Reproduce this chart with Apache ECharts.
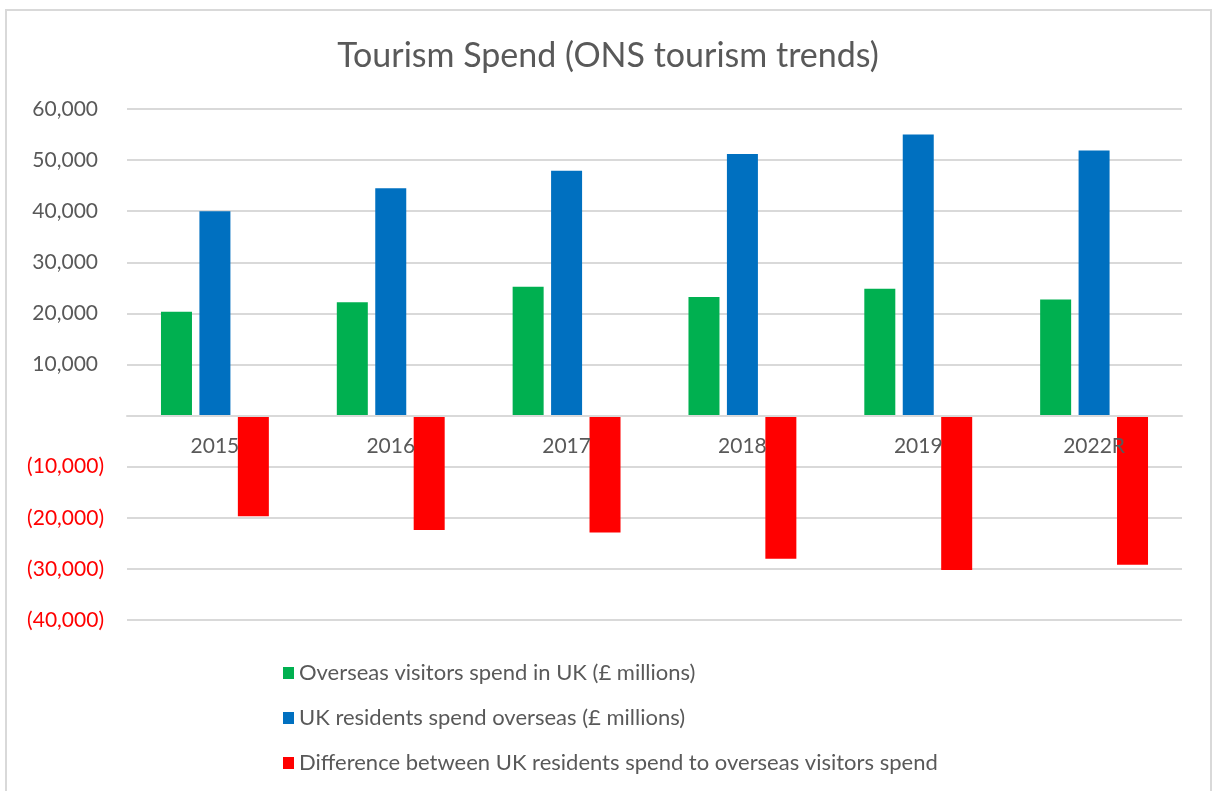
<!DOCTYPE html>
<html>
<head>
<meta charset="utf-8">
<title>Tourism Spend</title>
<script src="https://cdn.jsdelivr.net/npm/echarts@6/dist/echarts.min.js"></script>
<style>
  html, body { margin: 0; padding: 0; background: #ffffff; }
  #chart { width: 1216px; height: 791px; }
</style>
</head>
<body>
<div id="chart"></div>
<script>
// Years on the category axis
const years = ['2015', '2016', '2017', '2018', '2019', '2022R'];

// Spend in £ millions
const overseasInUK = [20300, 22200, 25200, 23200, 24800, 22700];
const ukResidentsOverseas = [40000, 44500, 47900, 51200, 55000, 51900];
const difference = [-19700, -22400, -22900, -28000, -30200, -29200];

const seriesNames = [
  'Overseas visitors spend in UK (£ millions)',
  'UK residents spend overseas (£ millions)',
  'Difference between UK residents spend to overseas visitors spend'
];

const valueMin = -40000;
const valueMax = 60000;
const valueStep = 10000;

const FONT = 'Lato, "Open Sans", sans-serif';
const GREY_TEXT = '#595959';
const GRID_LINE = '#d9d9d9';

const GRID_TOP = 109;
const GRID_BOTTOM = 171;
const GRID_HEIGHT = 791 - GRID_TOP - GRID_BOTTOM;
// Lift the category axis from the bottom of the grid up to the zero line
const zeroOffset = -GRID_HEIGHT * (0 - valueMin) / (valueMax - valueMin);

function fmtThousands(v) {
  return Math.abs(v).toString().replace(/\B(?=(\d{3})+(?!\d))/g, ',');
}

const chart = echarts.init(document.getElementById('chart'), null, { renderer: 'canvas' });

chart.setOption({
  backgroundColor: '#ffffff',
  animation: false,
  textStyle: { fontFamily: FONT },
  graphic: [{
    type: 'rect',
    shape: { x: 6, y: 10, width: 1205, height: 800 },
    style: { fill: 'none', stroke: GRID_LINE, lineWidth: 2 },
    silent: true,
    z: -10
  }],
  title: {
    text: 'Tourism Spend (ONS tourism trends)',
    left: 'center',
    top: 34,
    textStyle: { fontFamily: FONT, fontSize: 34, fontWeight: 'normal', color: GREY_TEXT }
  },
  legend: {
    orient: 'vertical',
    left: 283,
    top: 660,
    padding: 0,
    itemWidth: 11,
    itemHeight: 12,
    itemGap: 19,
    icon: 'rect',
    data: seriesNames,
    textStyle: { fontFamily: FONT, fontSize: 22, color: GREY_TEXT, lineHeight: 26 }
  },
  grid: { left: 127, right: 34, top: GRID_TOP, bottom: GRID_BOTTOM, containLabel: false },
  xAxis: {
    type: 'category',
    data: years,
    position: 'bottom',
    offset: zeroOffset,
    axisLine: { onZero: false, lineStyle: { color: GRID_LINE, width: 2 } },
    axisTick: { show: false },
    axisLabel: { margin: 20, fontFamily: FONT, fontSize: 21, color: GREY_TEXT },
    z: 4
  },
  yAxis: {
    type: 'value',
    min: valueMin,
    max: valueMax,
    interval: valueStep,
    axisLine: { show: false },
    axisTick: { show: false },
    splitLine: { lineStyle: { color: GRID_LINE, width: 2 } },
    axisLabel: {
      margin: 23,
      fontFamily: FONT,
      fontSize: 21,
      formatter: function (v) {
        if (v === 0) return '';
        if (v < 0) return '{neg|(' + fmtThousands(v) + ')}';
        return '{pos|' + fmtThousands(v) + '}';
      },
      rich: {
        pos: { fontFamily: FONT, fontSize: 21, color: GREY_TEXT, padding: [0, 6, 0, 0] },
        neg: { fontFamily: FONT, fontSize: 21, color: '#ff0000' }
      }
    }
  },
  series: [
    {
      name: seriesNames[0],
      type: 'bar',
      data: overseasInUK,
      barWidth: 31,
      barGap: '24%',
      itemStyle: { color: '#00b050' },
      z: 3
    },
    {
      name: seriesNames[1],
      type: 'bar',
      data: ukResidentsOverseas,
      barWidth: 31,
      barGap: '24%',
      itemStyle: { color: '#0070c0' },
      z: 3
    },
    {
      name: seriesNames[2],
      type: 'bar',
      data: difference,
      barWidth: 31,
      barGap: '24%',
      itemStyle: { color: '#ff0000' },
      z: 3
    }
  ]
});
</script>
</body>
</html>
